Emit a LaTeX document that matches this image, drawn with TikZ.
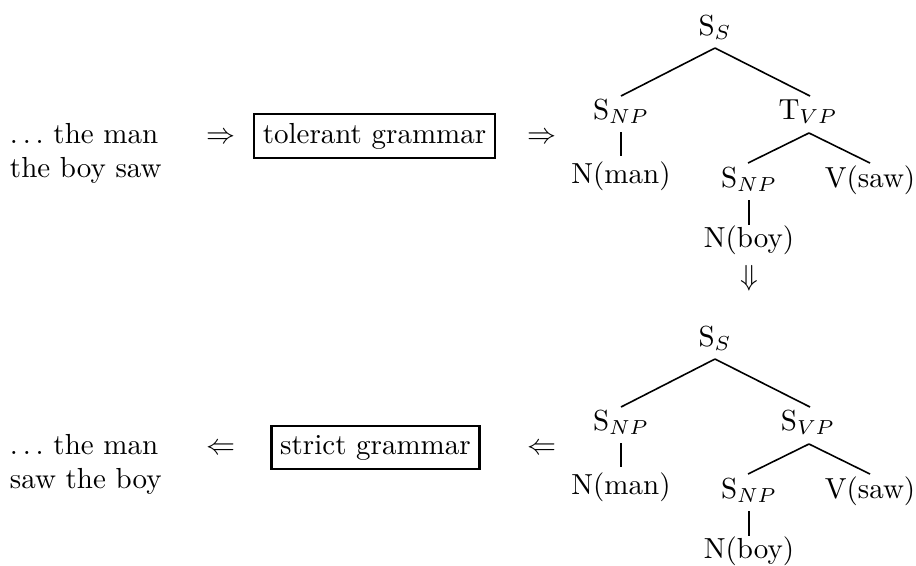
\documentclass[tikz,border=0pt]{standalone}
\usetikzlibrary{calc}
\begin{document}
\begin{tikzpicture}[x=0.3448pt,y=-0.3448pt,
  lbl/.style={anchor=base,inner sep=0pt,outer sep=0pt},
  txt/.style={anchor=base west,inner sep=0pt,outer sep=0pt},
  gbox/.style={anchor=base,draw,line width=0.8pt,inner sep=3pt},
  edge/.style={line width=0.55pt}]
\useasboundingbox (0,0) rectangle (916,565);

% ---------- upper row ----------
\node[txt] (l1a) at (10,143) {$\ldots$\ the man};
\node[txt] (l1b) at (10,177) {the boy saw};
\node[lbl] (ar1) at (221,143) {$\Rightarrow$};
\node[gbox] (g1) at (374.5,143) {tolerant grammar};
\node[lbl] (ar2) at (542,143) {$\Rightarrow$};

% tree 1
\node[lbl] (ss1)   at (715,35)  {S$_S$};
\node[lbl] (snp1)  at (621,119) {S$_{NP}$};
\node[lbl] (tvp1)  at (808,119) {T$_{VP}$};
\node[lbl] (nman1) at (621,183) {N(man)};
\node[lbl] (snpb1) at (749,187) {S$_{NP}$};
\node[lbl] (vsaw1) at (870,187) {V(saw)};
\node[lbl] (nboy1) at (749,247) {N(boy)};
\node[lbl] (dn)    at (749,285) {$\Downarrow$};

\draw[edge] ($(ss1.base)+(0,13)$) -- ($(snp1.base)+(0,-23)$);
\draw[edge] ($(ss1.base)+(0,13)$) -- ($(tvp1.base)+(2,-23)$);
\draw[edge] ($(snp1.base)+(0,13)$) -- ($(nman1.base)+(0,-27)$);
\draw[edge] ($(tvp1.base)+(1,14)$) -- ($(snpb1.base)+(-1,-24)$);
\draw[edge] ($(tvp1.base)+(1,14)$) -- ($(vsaw1.base)+(0,-24)$);
\draw[edge] ($(snpb1.base)+(0,13)$) -- ($(nboy1.base)+(0,-22)$);

% ---------- lower row ----------
\node[txt] (l2a) at (10,454) {$\ldots$\ the man};
\node[txt] (l2b) at (10,488) {saw the boy};
\node[lbl] (ar3) at (221,454) {$\Leftarrow$};
\node[gbox] (g2) at (375.5,454) {strict grammar};
\node[lbl] (ar4) at (542,454) {$\Leftarrow$};

% tree 2
\node[lbl] (ss2)   at (715,346) {S$_S$};
\node[lbl] (snp2)  at (621,430) {S$_{NP}$};
\node[lbl] (svp2)  at (808,430) {S$_{VP}$};
\node[lbl] (nman2) at (621,494) {N(man)};
\node[lbl] (snpb2) at (749,498) {S$_{NP}$};
\node[lbl] (vsaw2) at (870,498) {V(saw)};
\node[lbl] (nboy2) at (749,558) {N(boy)};

\draw[edge] ($(ss2.base)+(0,13)$) -- ($(snp2.base)+(0,-23)$);
\draw[edge] ($(ss2.base)+(0,13)$) -- ($(svp2.base)+(2,-23)$);
\draw[edge] ($(snp2.base)+(0,13)$) -- ($(nman2.base)+(0,-27)$);
\draw[edge] ($(svp2.base)+(1,14)$) -- ($(snpb2.base)+(-1,-24)$);
\draw[edge] ($(svp2.base)+(1,14)$) -- ($(vsaw2.base)+(0,-24)$);
\draw[edge] ($(snpb2.base)+(0,13)$) -- ($(nboy2.base)+(0,-22)$);
\end{tikzpicture}
\end{document}
